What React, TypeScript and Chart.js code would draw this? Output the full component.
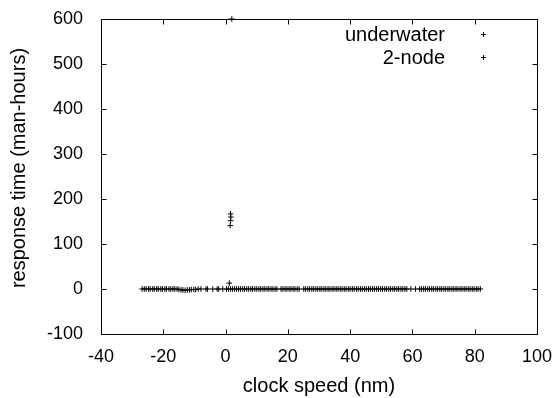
import React, { useEffect, useRef } from 'react';
import { Chart, registerables } from 'chart.js';

Chart.register(...registerables);

const seriesLabels = ['underwater', '2-node'];
const xTitle = 'clock speed (nm)';
const yTitle = 'response time (man-hours)';

const underwaterX = [
  -26.8, -26.1, -25.5, -24.7, -24.2, -23.4, -22.9, -22.1, -21.6, -20.8, -20.3, -19.5, -19.0, -18.2,
  -17.6, -16.9, -16.3, -15.6, -15.0, -14.3, -13.7, -13.0, -12.3, -11.6, -11.0, -10.2, -9.6, -8.8,
  -7.9, -6.3, -5.8, -4.1, -2.7, -2.2, -0.9, 0.3, 0.9, 1.6, 2.2, 2.9, 3.5, 4.2, 4.8, 5.5, 6.1, 6.8,
  7.4, 8.1, 8.7, 9.4, 10.0, 10.7, 11.3, 12.0, 12.6, 13.3, 13.9, 14.6, 15.2, 15.9, 16.5, 17.8, 18.4,
  19.1, 19.7, 20.4, 21.0, 21.7, 22.3, 23.0, 23.6, 25.1, 25.7, 26.4, 27.0, 27.7, 28.3, 29.0, 29.6,
  30.3, 30.9, 31.6, 32.2, 32.9, 33.5, 34.2, 34.8, 35.5, 36.1, 36.8, 37.4, 38.1, 38.7, 39.4, 40.0,
  40.7, 41.3, 42.0, 42.6, 43.3, 43.9, 44.6, 45.2, 45.9, 46.5, 47.2, 47.8, 48.5, 49.1, 49.8, 50.4,
  51.1, 51.7, 52.4, 53.0, 53.7, 54.3, 55.0, 55.6, 56.3, 56.9, 57.6, 58.2, 59.5, 61.0, 62.3, 62.9,
  63.6, 64.2, 64.9, 65.5, 66.2, 66.8, 67.5, 68.1, 68.8, 69.4, 70.1, 70.7, 71.4, 72.0, 72.7, 73.3,
  74.0, 74.6, 75.3, 75.9, 76.6, 77.2, 77.9, 78.5, 79.2, 79.8, 80.5, 81.1, 81.8, 82.4, 83.0,
];

const underwaterY = [
  0, 0, 0, 0, 0, 0, 0, 0, 0, 0, 0, 0, 0, 0,
  0, 0, 0, 0, -1, -2, -2, -3, -2, -2, -1, -1, -1, 0,
  0, 0, 0, 0, 0, 0, 0, 0, 0, 0, 0, 0, 0, 0, 0, 0, 0, 0,
  0, 0, 0, 0, 0, 0, 0, 0, 0, 0, 0, 0, 0, 0, 0, 0, 0,
  0, 0, 0, 0, 0, 0, 0, 0, 0, 0, 0, 0, 0, 0, 0,
  0, 0, 0, 0, 0, 0, 0, 0, 0, 0, 0, 0, 0, 0, 0,
  0, 0, 0, 0, 0, 0, 0, 0, 0, 0, 0, 0, 0, 0, 0, 0,
  0, 0, 0, 0, 0, 0, 0, 0, 0, 0, 0, 0, 0, 0, 0, 0,
  0, 0, 0, 0, 0, 0, 0, 0, 0, 0, 0, 0, 0, 0, 0, 0,
  0, 0, 0, 0, 0, 0, 0, 0, 0, 0, 0, 0, 0, 0, 0,
];

const nodeX = [2.0, 1.6, 1.7, 1.6, 1.5, 1.2];
const nodeY = [600, 167, 160, 152, 141, 13];

const xTicks = [-40, -20, 0, 20, 40, 60, 80, 100];
const yTicks = [-100, 0, 100, 200, 300, 400, 500, 600];

const FONT = "'Liberation Sans', Arial, Helvetica, sans-serif";

const frameAndLegend = {
  id: 'frameAndLegend',
  afterDraw(chart: any) {
    const ctx = chart.ctx;
    const { left, right, top, bottom } = chart.chartArea;
    const xs = chart.scales.x;
    const ys = chart.scales.y;
    ctx.save();
    ctx.strokeStyle = '#000';
    ctx.lineWidth = 1;
    const L = Math.round(left) + 0.5;
    const R = Math.round(right) + 0.5;
    const T = Math.round(top) + 0.5;
    const B = Math.round(bottom) + 0.5;
    ctx.beginPath();
    ctx.rect(L, T, R - L, B - T);
    ctx.stroke();
    const tl = 5;
    ctx.beginPath();
    xTicks.forEach((v) => {
      const px = Math.round(xs.getPixelForValue(v)) + 0.5;
      ctx.moveTo(px, B);
      ctx.lineTo(px, B - tl);
      ctx.moveTo(px, T);
      ctx.lineTo(px, T + tl);
    });
    yTicks.forEach((v) => {
      const py = Math.round(ys.getPixelForValue(v)) + 0.5;
      ctx.moveTo(L, py);
      ctx.lineTo(L + tl, py);
      ctx.moveTo(R, py);
      ctx.lineTo(R - tl, py);
    });
    ctx.stroke();

    // y axis title
    ctx.fillStyle = '#000';
    ctx.font = `20px ${FONT}`;
    ctx.save();
    ctx.translate(19, 168);
    ctx.rotate(-Math.PI / 2);
    ctx.textAlign = 'center';
    ctx.textBaseline = 'middle';
    ctx.fillText(yTitle, 0, 0);
    ctx.restore();

    // legend
    ctx.textAlign = 'right';
    ctx.textBaseline = 'middle';
    const rows = [35, 58];
    chart.data.datasets.forEach((ds: any, i: number) => {
      const y = rows[i];
      ctx.fillText(ds.label, 445, y);
      const mx = 483.5;
      const my = Math.round(y - 1) + 0.5;
      ctx.beginPath();
      ctx.moveTo(mx - 2.5, my);
      ctx.lineTo(mx + 2.5, my);
      ctx.moveTo(mx, my - 2.5);
      ctx.lineTo(mx, my + 2.5);
      ctx.stroke();
    });
    ctx.restore();
  },
};

export default function App() {
  const ref = useRef<HTMLCanvasElement | null>(null);
  useEffect(() => {
    if (!ref.current) return;
    const mk = (xs: number[], ys: number[]) => xs.map((x, i) => ({ x, y: ys[i] }));
    const zeroPad = (s: any) => {
      s.paddingTop = 0;
      s.paddingBottom = 0;
      s.paddingLeft = 0;
      s.paddingRight = 0;
    };
    const chart = new Chart(ref.current, {
      type: 'scatter',
      data: {
        datasets: [
          {
            label: seriesLabels[0],
            data: mk(underwaterX, underwaterY),
            pointStyle: 'cross',
            radius: 2.8,
            borderColor: '#000',
            backgroundColor: '#000',
            borderWidth: 1,
            clip: false as any,
          },
          {
            label: seriesLabels[1],
            data: mk(nodeX, nodeY),
            pointStyle: 'cross',
            radius: 2.8,
            borderColor: '#000',
            backgroundColor: '#000',
            borderWidth: 1,
            clip: false as any,
          },
        ],
      },
      options: {
        animation: false,
        responsive: false,
        devicePixelRatio: 1,
        layout: { padding: { top: 19, right: 23, left: 0, bottom: 0 } },
        plugins: {
          legend: { display: false },
          tooltip: { enabled: false },
        },
        scales: {
          x: {
            type: 'linear',
            min: -40,
            max: 100,
            grid: { display: false, drawTicks: false },
            border: { display: false },
            afterBuildTicks: (s: any) => {
              s.ticks = xTicks.map((v) => ({ value: v }));
            },
            afterFit: (s: any) => {
              s.height = 64;
              zeroPad(s);
            },
            ticks: {
              color: '#000',
              padding: 12,
              maxRotation: 0,
              autoSkip: false,
              font: { family: FONT, size: 18 },
            },
            title: {
              display: true,
              text: xTitle,
              color: '#000',
              padding: { top: 0, bottom: 0 },
              font: { family: FONT, size: 20 },
            },
          },
          y: {
            type: 'linear',
            min: -100,
            max: 600,
            grid: { display: false, drawTicks: false },
            border: { display: false },
            afterBuildTicks: (s: any) => {
              s.ticks = yTicks.map((v) => ({ value: v }));
            },
            afterFit: (s: any) => {
              s.width = 101;
              zeroPad(s);
            },
            ticks: {
              color: '#000',
              padding: 18,
              autoSkip: false,
              font: { family: FONT, size: 18 },
            },
          },
        },
      },
      plugins: [frameAndLegend],
    });
    return () => chart.destroy();
  }, []);
  return (
    <div style={{ position: 'absolute', left: 0, top: 0, width: 560, height: 398, background: '#fff' }}>
      <canvas ref={ref} width={560} height={398} style={{ display: 'block' }} />
    </div>
  );
}
